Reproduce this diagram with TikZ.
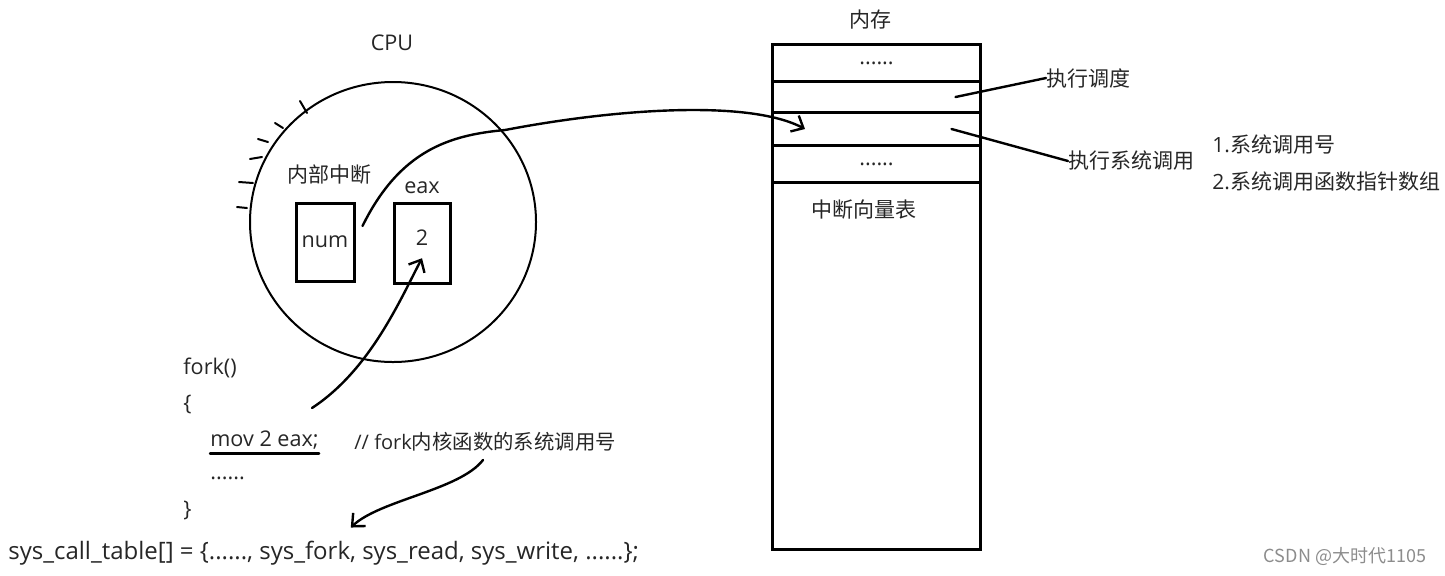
\documentclass[tikz,border=0pt]{standalone}
\usepackage{fontspec}
\newfontfamily\cjk{Noto Sans CJK SC}
\newfontfamily\lat{Open Sans}
\usetikzlibrary{shapes.geometric,arrows.meta}

\tikzset{
  txt/.style={font=\cjk\fontsize{10.5}{12}\selectfont, text=black!85, inner sep=0pt},
  code/.style={txt, font=\lat\fontsize{10.8}{12}\selectfont},
  box/.style={draw=black, line width=1.5pt},
  pen/.style={draw=black, line width=1.2pt, line cap=round},
  barb/.style={-{Straight Barb[length=5pt,width=9pt]}}
}

\begin{document}
\begin{tikzpicture}[x=0.5pt,y=-0.5pt]
  \useasboundingbox (0,0) rectangle (1445,575);
  % cpu
  \node[code] (cpulbl) at (392,43) {CPU};
  \node[ellipse, draw=black, line width=1pt, minimum width=143pt, minimum height=140pt, inner sep=0pt] (cpu) at (393,222) {};
  \foreach \x/\y/\u/\v in {237/207/247/208, 239/182/253/183, 250/159/262/157, 258/139/268/142, 275/123/283/128, 300/101/307/113} {
    \draw[pen, line width=1pt] (\x,\y) -- (\u,\v);
  }
  \node[txt] (intlbl) at (329,175) {内部中断};
  \node[code] (eaxlbl) at (422,188) {eax};
  \node[box, code, minimum width=29pt, minimum height=39pt] (num) at (325,242) {num};
  \node[box, minimum width=28pt, minimum height=40pt] (eaxbox) at (422,243) {};
  \node[code] (val) at (422,238) {2};
  %
  % memory
  \node[txt] (memlbl) at (870,20) {内存};
  \node[box, anchor=north west, minimum width=104pt, minimum height=252.5pt] (mem) at (771,43) {};
  \foreach \name/\top/\bot in {rowa/43/80, rowb/80/111, rowc/111/144, rowd/144/181} {
    \pgfmathsetmacro{\h}{(\bot-\top)*0.5}
    \node[box, anchor=north west, minimum width=104pt, minimum height=\h pt] (\name) at (771,\top) {};
  }
  \node[code] (dotsa) at (rowa) {......};
  \node[code] (dotsd) at (rowd) {......};
  \node[txt] (ivt) at (864,210) {中断向量表};
  \node[txt, anchor=west] (sched) at (1046,78) {执行调度};
  \node[txt, anchor=west] (sysc) at (1068,161) {执行系统调用};
  \node[txt, anchor=west] (note1) at (1212,145) {{\lat 1.}系统调用号};
  \node[txt, anchor=west] (note2) at (1212,182) {{\lat 2.}系统调用函数指针数组};
  \draw[pen] ([xshift=39.5pt]rowb.center) -- (sched.west);
  \draw[pen] ([xshift=37.5pt]rowc.center) -- (sysc.west);
  %
  % code
  \node[code, anchor=west] (fork) at (183,368) {fork()};
  \node[code, anchor=west] (lbrace) at (183,404) {\{};
  \node[code, anchor=west] (mov) at (210,440) {mov 2 eax;};
  \node[txt, anchor=west, font=\cjk\fontsize{10.2}{12}\selectfont] (cmt) at (354,442) {{\lat\fontsize{10}{12}\selectfont // fork}内核函数的系统调用号};
  \node[code, anchor=west] (more) at (210,478) {......};
  \node[code, anchor=west] (rbrace) at (183,510) {\}};
  \node[code, anchor=west, font=\lat\fontsize{12}{14}\selectfont] (table) at (8,553) {sys\_call\_table[] = \{......, sys\_fork, sys\_read, sys\_write, ......\};};
  \draw[pen] ([yshift=-2pt]mov.south west) -- ([yshift=-2pt]mov.south east);
  \coordinate (forkcall) at (312,408);
  %
  % arrows
  \draw[pen, barb] (forkcall) .. controls (370,370) and (400,300) .. ([yshift=-6pt]val.south);
  \draw[pen, barb] ([xshift=3.5pt,yshift=8pt]num.east) .. controls (400,150) and (450,135) .. (505,130) .. controls (620,108) and (750,100) .. ([xshift=17pt]rowc.west);
  \draw[pen, barb] ([xshift=-1pt,yshift=-4pt]cmt.south) .. controls (460,490) and (380,500) .. ([xshift=13.5pt,yshift=6.5pt]table.north);
  %
  \node[txt, text=black!45, font=\cjk\fontsize{9}{11}\selectfont] (mark) at (1345,556) {CSDN @大时代1105};
\end{tikzpicture}
\end{document}
